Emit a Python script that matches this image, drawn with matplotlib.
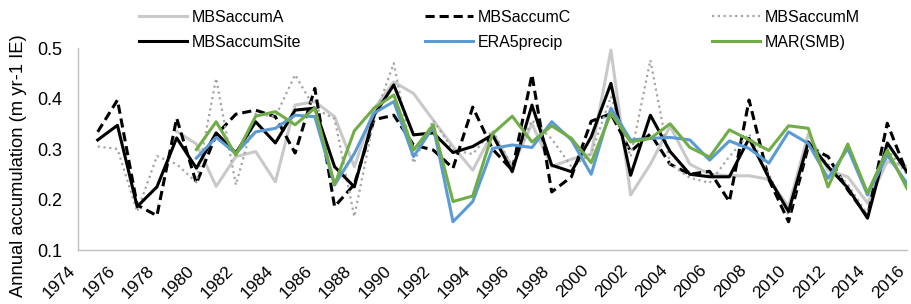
import numpy as np
from matplotlib import pyplot as plt
from matplotlib.transforms import ScaledTranslation

plt.rcParams['font.family'] = ['Liberation Sans', 'DejaVu Sans']

nan = np.nan
years = list(range(1974, 2017))

#series values (m yr-1 IE), 1974-2016
MBSaccumA = [nan, nan, nan, nan, nan, 0.335, 0.31, 0.226, 0.285, 0.295, 0.235, 0.387, 0.394, 0.364, 0.265,
             0.38, 0.433, 0.41, 0.357, 0.305, 0.258, 0.332, 0.265, 0.35, 0.265, 0.28, 0.29, 0.496, 0.209,
             0.27, 0.345, 0.27, 0.25, 0.247, 0.247, 0.24, 0.186, 0.33, 0.258, 0.245, 0.193, 0.275, 0.265]
MBSaccumC = [nan, 0.334, 0.397, 0.189, 0.168, 0.361, 0.232, 0.328, 0.369, 0.377, 0.364, 0.292, 0.42, 0.186,
             0.23, 0.358, 0.367, 0.308, 0.298, 0.262, 0.383, 0.30, 0.258, 0.447, 0.215, 0.245, 0.355, 0.37,
             0.295, 0.33, 0.27, 0.25, 0.256, 0.196, 0.397, 0.24, 0.156, 0.305, 0.285, 0.219, 0.166, 0.351, 0.252]
MBSaccumM = [nan, 0.305, 0.30, 0.176, 0.286, 0.27, 0.234, 0.44, 0.229, 0.37, 0.364, 0.447, 0.38, 0.36,
             0.166, 0.36, 0.47, 0.272, 0.357, 0.298, 0.29, 0.337, 0.265, 0.357, 0.32, 0.265, 0.29, 0.404,
             0.285, 0.476, 0.27, 0.243, 0.233, 0.285, 0.33, 0.25, 0.17, 0.31, 0.27, 0.23, 0.17, 0.30, 0.25]
MBSaccumSite = [nan, 0.318, 0.347, 0.186, 0.225, 0.322, 0.262, 0.332, 0.292, 0.354, 0.312, 0.377, 0.381,
                0.265, 0.225, 0.367, 0.427, 0.328, 0.332, 0.293, 0.305, 0.328, 0.255, 0.387, 0.268, 0.255,
                0.324, 0.43, 0.248, 0.367, 0.295, 0.25, 0.245, 0.245, 0.321, 0.243, 0.176, 0.314, 0.265,
                0.223, 0.163, 0.312, 0.255]
ERA5precip = [nan, nan, nan, nan, nan, nan, 0.282, 0.323, 0.291, 0.334, 0.341, 0.367, 0.364, 0.229, 0.291,
              0.371, 0.394, 0.285, 0.344, 0.156, 0.196, 0.301, 0.308, 0.303, 0.354, 0.318, 0.25, 0.381,
              0.318, 0.321, 0.323, 0.318, 0.278, 0.316, 0.301, 0.272, 0.334, 0.311, 0.242, 0.301, 0.209,
              0.288, 0.232]
MAR_SMB = [nan, nan, nan, nan, nan, nan, 0.299, 0.354, 0.288, 0.365, 0.374, 0.348, 0.381, 0.229, 0.336,
           0.381, 0.407, 0.298, 0.348, 0.196, 0.207, 0.33, 0.365, 0.314, 0.346, 0.321, 0.273, 0.371, 0.314,
           0.321, 0.35, 0.303, 0.284, 0.338, 0.318, 0.297, 0.346, 0.341, 0.225, 0.31, 0.213, 0.298, 0.222]

fig = plt.figure(figsize=(9.11, 3.04), dpi=100)
ax = fig.add_axes([0.0856, 0.1776, 0.91, 0.6644])

lw = 2.2
lA, = ax.plot(years, MBSaccumA, color='#C9C9C9', lw=lw)
lC, = ax.plot(years, MBSaccumC, color='black', lw=lw, linestyle=(0, (3, 1.6)))
lM, = ax.plot(years, MBSaccumM, color='#A5A5A5', lw=1.6, linestyle=(0, (1, 1.6)))
lS, = ax.plot(years, MBSaccumSite, color='black', lw=lw)
lE, = ax.plot(years, ERA5precip, color='#5B9BD5', lw=lw)
lG, = ax.plot(years, MAR_SMB, color='#70AD47', lw=lw)

#axes
ax.set_xlim(1974, 2016)
ax.set_ylim(0.1, 0.5)
ax.set_yticks([0.1, 0.2, 0.3, 0.4, 0.5])
ax.set_yticklabels(['0.1', '0.2', '0.3', '0.4', '0.5'])
ax.set_xticks(years[::2])
ax.set_xticklabels([str(y) for y in years[::2]], rotation=45, ha='right', va='center',
                   rotation_mode='anchor')
ax.tick_params(axis='both', length=0, labelsize=13)
ax.tick_params(axis='x', labelsize=12.5, pad=13)
ax.tick_params(axis='y', pad=11)
shift = ScaledTranslation(-0.05, 0, fig.dpi_scale_trans)
for lab in ax.get_xticklabels():
    lab.set_transform(lab.get_transform() + shift)
for s in ['top', 'right']:
    ax.spines[s].set_visible(False)
for s in ['left', 'bottom']:
    ax.spines[s].set_color('#BFBFBF')
    ax.spines[s].set_linewidth(1)
ax.set_ylabel('Annual accumulation (m yr-1 IE)', fontsize=13.2)
ax.yaxis.set_label_coords(-0.0615, 0.42)

#legend, three columns placed like the original
cols = [([lA, lS], ['MBSaccumA', 'MBSaccumSite'], 139),
        ([lC, lE], ['MBSaccumC', 'ERA5precip'], 425),
        ([lM, lG], ['MBSaccumM', 'MAR(SMB)'], 712)]
for h, l, x0 in cols:
    leg = fig.legend(h, l, loc='upper left', bbox_to_anchor=(x0 / 911, 1 - 10 / 304),
                     frameon=False, fontsize=11.5, handlelength=3.0, handletextpad=0.3,
                     labelspacing=0.6, borderpad=0, borderaxespad=0)

plt.savefig('out.png', dpi=100)
